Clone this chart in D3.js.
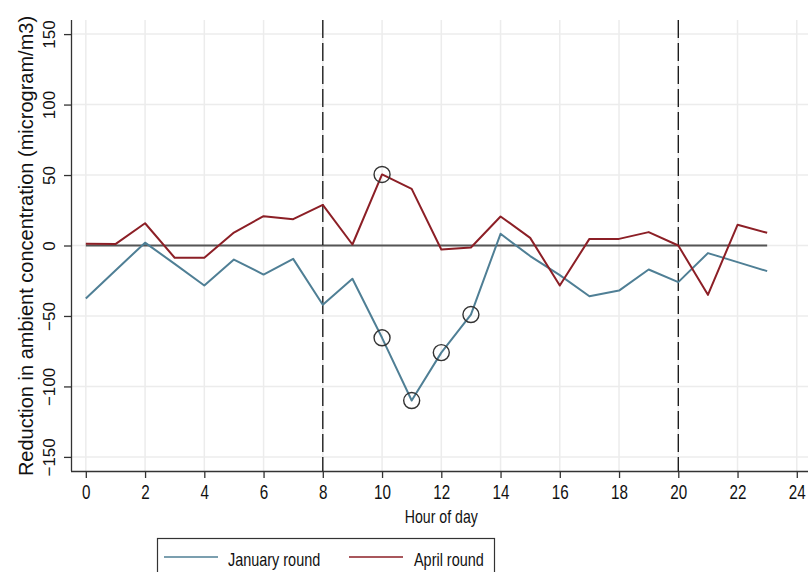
<!DOCTYPE html>
<html><head><meta charset="utf-8">
<script src="https://cdn.jsdelivr.net/npm/d3@7"></script>
<style>body{margin:0;background:#fff}svg{display:block}</style>
</head><body>
<script>
const hours = d3.range(0, 24);
const january = [-37.6,-17.7,2,-13,-28.4,-10,-20.6,-9.5,-42,-23.6,-65.5,-110,-76,-49,8.3,-7.5,-21,-36,-32,-17,-26,-5.4,-11.8,-18.2];
const april = [1.2,1,15.8,-8.7,-8.7,9.2,20.8,18.7,28.8,0.7,50.4,40.2,-2.8,-1.4,20.6,5.4,-28.4,4.7,4.7,9.5,0,-35,14.7,9];
const janCircled = [10,11,12,13];
const aprCircled = [10];
const xTicks = d3.range(0, 25, 2);
const yTicks = [-150,-100,-50,0,50,100,150];
const refHours = [8, 20];
const seriesNames = ["January round", "April round"];
const colors = ["#4f7f95", "#8c1f26"];

const W = 808, H = 572;
const FONT = "'Liberation Sans',Arial,sans-serif";
const svg = d3.select("body").append("svg").attr("width", W).attr("height", H);
const x = d3.scaleLinear().domain([-0.5, 24.5]).range([71, 811.6]);
const y = d3.scaleLinear().domain([-160, 160]).range([471, 20]);

// grid
svg.append("g").selectAll("line").data(xTicks).join("line")
  .attr("x1", d => x(d)).attr("x2", d => x(d)).attr("y1", 20).attr("y2", 471)
  .attr("stroke", "#ececec").attr("stroke-width", 1.5);
svg.append("g").selectAll("line").data(yTicks).join("line")
  .attr("x1", 71).attr("x2", W).attr("y1", d => y(d)).attr("y2", d => y(d))
  .attr("stroke", "#ececec").attr("stroke-width", 1.5);

// axes
const xAxis = svg.append("g").attr("transform", `translate(0,${y(-160)})`)
  .call(d3.axisBottom(x).tickValues(xTicks).tickSize(7).tickPadding(5).tickFormat(d3.format("d")));
xAxis.select(".domain").attr("stroke", "#333").attr("stroke-width", 1.3).attr("d", `M71,0.5H${W}`);
xAxis.selectAll(".tick line").attr("stroke", "#333").attr("stroke-width", 1.3);
xAxis.selectAll(".tick text").attr("fill", "#111").attr("y", 0).attr("dy", null)
  .attr("transform", "translate(0,28) scale(0.78,1)")
  .style("font-family", FONT).style("font-size", "19.5px");

const yAxis = svg.append("g").attr("transform", `translate(71,0)`)
  .call(d3.axisLeft(y).tickValues(yTicks).tickSize(7).tickFormat(d3.format("d")));
yAxis.select(".domain").attr("stroke", "#333").attr("stroke-width", 1.3).attr("d", `M0.5,20V471`);
yAxis.selectAll(".tick line").attr("stroke", "#333").attr("stroke-width", 1.3);
yAxis.selectAll(".tick text").attr("fill", "#111")
  .attr("x", null).attr("dy", null)
  .attr("transform", "translate(-16,0) rotate(-90)")
  .attr("text-anchor", "middle")
  .style("font-family", FONT).style("font-size", "17px");

// zero line
svg.append("line").attr("x1", x(0)).attr("x2", x(23)).attr("y1", y(0)).attr("y2", y(0))
  .attr("stroke", "#555").attr("stroke-width", 2);

// reference dashed lines
svg.append("g").selectAll("line").data(refHours).join("line")
  .attr("x1", d => x(d)).attr("x2", d => x(d)).attr("y1", 20).attr("y2", 471)
  .attr("stroke", "#111").attr("stroke-width", 1.3).attr("stroke-dasharray", "18,5");

// series
const line = d3.line().x((d, i) => x(hours[i])).y(d => y(d));
[january, april].forEach((s, k) => {
  svg.append("path").datum(s).attr("d", line).attr("fill", "none")
    .attr("stroke", colors[k]).attr("stroke-width", 2).attr("stroke-linejoin", "round");
});

// circled points
const circ = janCircled.map(h => [h, january[h]]).concat(aprCircled.map(h => [h, april[h]]));
svg.append("g").selectAll("circle").data(circ).join("circle")
  .attr("cx", d => x(d[0])).attr("cy", d => y(d[1])).attr("r", 8)
  .attr("fill", "none").attr("stroke", "#333").attr("stroke-width", 1.4);

// axis titles
svg.append("g").attr("transform", `translate(${x(12)},523) scale(0.785,1)`)
  .append("text").attr("text-anchor", "middle")
  .style("font-family", FONT).style("font-size", "18px")
  .attr("fill", "#111").text("Hour of day");
svg.append("text").attr("transform", `translate(33,246) rotate(-90)`).attr("text-anchor", "middle")
  .style("font-family", FONT).style("font-size", "20px")
  .attr("fill", "#111").text("Reduction in ambient concentration (microgram/m3)");

// legend
const lg = svg.append("g");
lg.append("rect").attr("x", 157.5).attr("y", 538.5).attr("width", 337).attr("height", 50)
  .attr("fill", "#fff").attr("stroke", "#333").attr("stroke-width", 1.2);
const legX = [[164, 218, 228], [349, 403, 414]];
seriesNames.forEach((n, k) => {
  lg.append("line").attr("x1", legX[k][0]).attr("x2", legX[k][1]).attr("y1", 557).attr("y2", 557)
    .attr("stroke", colors[k]).attr("stroke-width", 1.6);
  lg.append("g").attr("transform", `translate(${legX[k][2]},566) scale(0.78,1)`)
    .append("text")
    .style("font-family", FONT).style("font-size", "18.5px")
    .attr("fill", "#111").text(n);
});
</script>
</body></html>
